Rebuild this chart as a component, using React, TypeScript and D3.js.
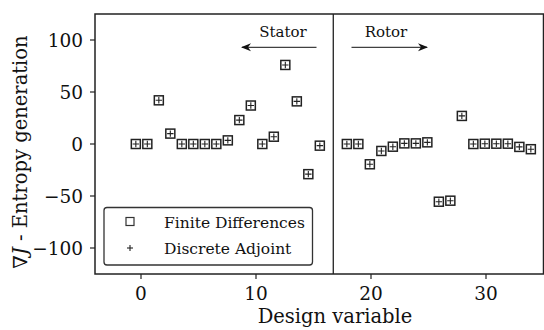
import React from "react";
import * as d3 from "d3";

const statorX = [-0.45, 0.55, 1.55, 2.55, 3.55, 4.55, 5.55, 6.55, 7.55, 8.55, 9.55, 10.55, 11.55, 12.55, 13.55, 14.55, 15.55];
const statorY = [0, 0, 42, 10, 0, 0, 0, 0, 3.5, 23, 37, 0, 7, 76, 41, -29, -1.6];
const rotorX = [17.9, 18.9, 19.9, 20.9, 21.9, 22.9, 23.9, 24.9, 25.9, 26.9, 27.9, 28.9, 29.9, 30.9, 31.9, 32.9, 33.9];
const rotorY = [0, 0, -19.5, -6.7, -2.6, 0.6, 0.6, 1.6, -55.5, -54.5, 27, 0, 0.3, 0.3, 0.3, -2.8, -5];
const xTicks = [0, 10, 20, 30];
const yTicks = [-100, -50, 0, 50, 100];
const dividerX = 16.72;
const legendLabels = ["Finite Differences", "Discrete Adjoint"];

const W = 544, H = 330;
const L = 95, R = 543.5, T = 14, B = 274;
const FONT = "DejaVu Serif";

export default function App() {
  const x = d3.scaleLinear().domain([-4, 35]).range([141 - 4 * 11.5, 141 + 35 * 11.5]);
  const y = d3.scaleLinear().domain([-125, 125]).range([B, T]);
  const pts = [
    ...statorX.map((v, i) => ({ x: v, y: statorY[i] })),
    ...rotorX.map((v, i) => ({ x: v, y: rotorY[i] })),
  ];
  const fmt = (v: number) => (v < 0 ? "\u2212" + Math.abs(v) : String(v));
  const sq = 9;
  const pl = 3.2;
  return (
    <svg width={W} height={H} style={{ position: "absolute", left: 0, top: 0, background: "#fff" }} fontFamily={FONT}>
      <defs>
        <clipPath id="clip">
          <rect x={L} y={T} width={R - L} height={B - T} />
        </clipPath>
        <marker id="arrow" viewBox="0 0 10 10" refX="9" refY="5" markerWidth="10" markerHeight="10" markerUnits="userSpaceOnUse" orient="auto">
          <path d="M0,1 L10,5 L0,9 L3,5 Z" fill="#111" />
        </marker>
      </defs>
      <line x1={x(dividerX)} x2={x(dividerX)} y1={T} y2={B} stroke="#222" strokeWidth={1.3} />
      <g clipPath="url(#clip)">
        {pts.map((p, i) => (
          <g key={i} transform={`translate(${x(p.x)},${y(p.y)})`}>
            <rect x={-sq / 2} y={-sq / 2} width={sq} height={sq} fill="none" stroke="#222" strokeWidth={1.5} />
            <line x1={-pl} x2={pl} y1={0} y2={0} stroke="#222" strokeWidth={1.1} />
            <line x1={0} x2={0} y1={-pl} y2={pl} stroke="#222" strokeWidth={1.1} />
          </g>
        ))}
      </g>
      <line x1={316.5} x2={242} y1={47.3} y2={47.3} stroke="#111" strokeWidth={1} markerEnd="url(#arrow)" />
      <text x={283} y={37} fontSize={15} textAnchor="middle" fill="#111">Stator</text>
      <line x1={351.5} x2={427} y1={47.3} y2={47.3} stroke="#111" strokeWidth={1} markerEnd="url(#arrow)" />
      <text x={386} y={37} fontSize={15} textAnchor="middle" fill="#111">Rotor</text>
      <rect x={L} y={T} width={R - L} height={B - T} fill="none" stroke="#222" strokeWidth={1.5} />
      {xTicks.map((t) => (
        <g key={t}>
          <line x1={x(t)} x2={x(t)} y1={B} y2={B + 5} stroke="#222" strokeWidth={1.2} />
          <text x={x(t)} y={300} fontSize={18.5} textAnchor="middle" fill="#111">{t}</text>
        </g>
      ))}
      {yTicks.map((t) => (
        <g key={t}>
          <line x1={L - 5} x2={L} y1={y(t)} y2={y(t)} stroke="#222" strokeWidth={1.2} />
          <text x={83} y={y(t) + 6.5} fontSize={18.5} textAnchor="end" fill="#111">{fmt(t)}</text>
        </g>
      ))}
      <text x={335} y={323} fontSize={19.5} textAnchor="middle" fill="#111">Design variable</text>
      <text transform="translate(27,152) rotate(-90)" fontSize={19.5} textAnchor="middle" fill="#111">
        <tspan>∇</tspan><tspan fontStyle="italic">J</tspan><tspan> - Entropy generation</tspan>
      </text>
      <rect x={104} y={207.5} width={208.5} height={57.5} rx={3} fill="#fff" stroke="#333" strokeWidth={1.3} />
      <rect x={126} y={217.5} width={8} height={8} fill="none" stroke="#333" strokeWidth={1.2} />
      <line x1={127} x2={133} y1={248} y2={248} stroke="#222" strokeWidth={1.1} />
      <line x1={130} x2={130} y1={245} y2={251} stroke="#222" strokeWidth={1.1} />
      <text x={164} y={227.5} fontSize={15.5} fill="#111">{legendLabels[0]}</text>
      <text x={164} y={253.5} fontSize={15.5} fill="#111">{legendLabels[1]}</text>
    </svg>
  );
}
